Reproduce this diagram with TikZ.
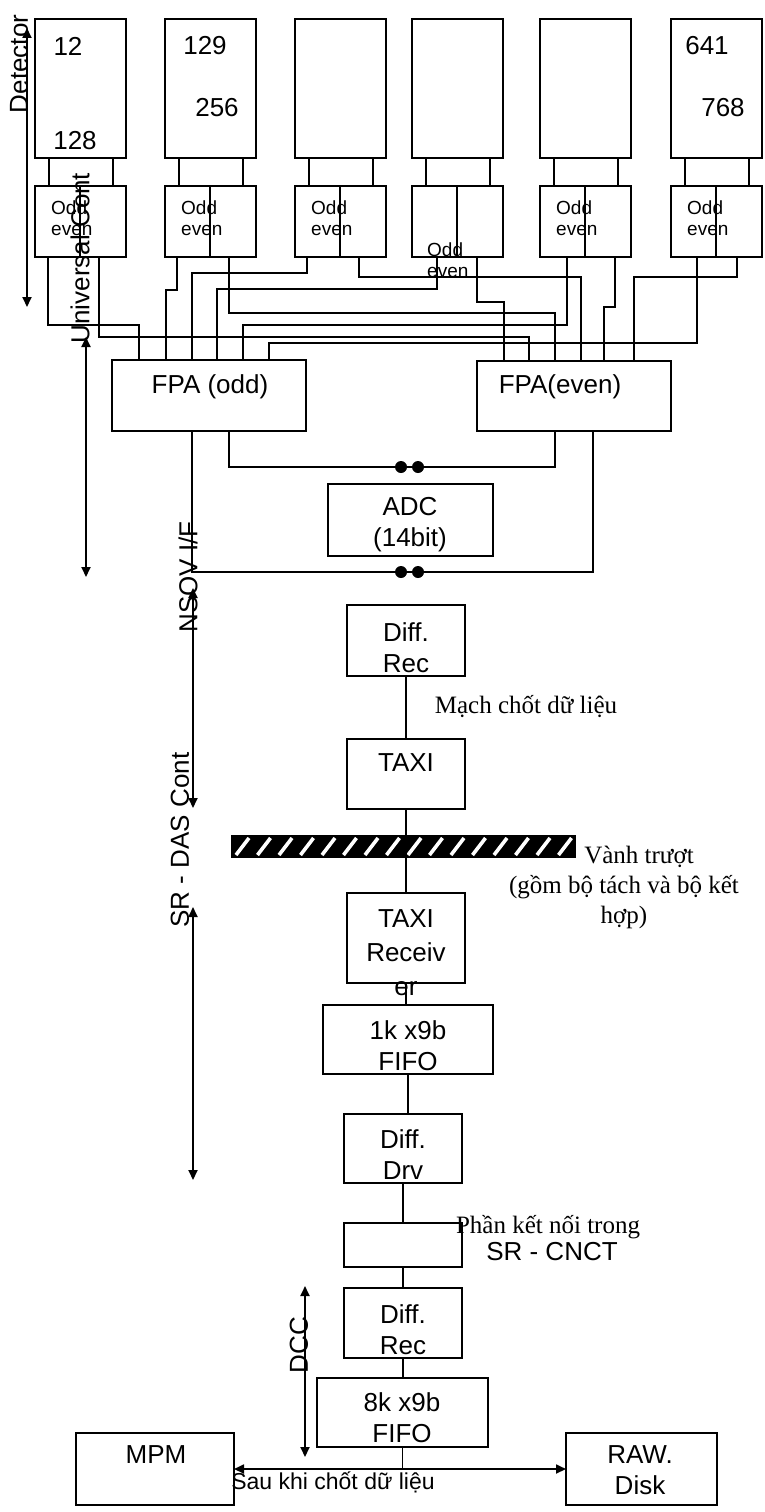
\documentclass[tikz,border=0pt]{standalone}
\usepackage{fontspec}
\setmainfont{Liberation Serif}
\setsansfont{Liberation Sans}
\usetikzlibrary{arrows.meta}

\begin{document}
\begin{tikzpicture}[x=1pt, y=-1pt,
  box/.style={draw, line width=2.8pt, inner sep=0pt, outer sep=0pt, anchor=north west},
  wire/.style={line width=1.8pt},
  both/.style={line width=1.8pt, {Triangle[length=10pt,width=9pt]}-{Triangle[length=10pt,width=9pt]}},
  txt/.style={font=\fontsize{26}{31}\selectfont\sffamily, align=center, inner sep=0pt},
  oe/.style={font=\fontsize{19}{21}\selectfont\sffamily, align=left, inner sep=0pt, anchor=west},
  vn/.style={font=\fontsize{25}{30}\selectfont\rmfamily, align=center, inner sep=0pt},
  side/.style={txt, rotate=90}]
  \fill[white] (0,0) rectangle (764,1512);
  \useasboundingbox (0,0) rectangle (764,1512);

  % --- Detector modules and odd/even split ---
  \foreach \i/\x in {1/35, 2/165, 3/295, 4/412, 5/540, 6/671} {
    \node[box, minimum width=91pt, minimum height=139pt] (d\i) at (\x,19) {};
    \node[box, minimum width=91pt, minimum height=71pt] (ob\i) at (\x,186) {};
    \draw[line width=2.8pt] ([xshift=45pt]ob\i.north west) -- ([xshift=45pt]ob\i.south west);
    \draw[wire] ([xshift=14pt]d\i.south west) -- ([xshift=14pt]ob\i.north west);
    \draw[wire] ([xshift=78pt]d\i.south west) -- ([xshift=78pt]ob\i.north west);
  }
  \node[txt] (n12) at (68,46) {12};
  \node[txt] (n128) at (75,141) {128};
  \node[txt] (n129) at (205,46) {129};
  \node[txt] (n256) at (217,108) {256};
  \node[txt] (n641) at (707,46) {641};
  \node[txt] (n768) at (723,108) {768};
  \foreach \i/\x in {1/51, 2/181, 3/311, 5/556, 6/687}
    \node[oe] (oe\i) at (\x,218) {Odd\\even};
  \node[oe] (oe4) at (427,260) {Odd\\even};

  % --- FPA boards ---
  \node[box, minimum width=194pt, minimum height=71pt] (fpaO) at (112,360) {};
  \node[txt] (tfpaO) at (210,387) {FPA (odd)};
  \node[box, minimum width=194pt, minimum height=70pt] (fpaE) at (477,361) {};
  \node[txt] (tfpaE) at (560,387) {FPA(even)};

  % --- Wiring to the FPA boards ---
  \foreach \i/\sx/\tx/\by in {1/13/139/325, 2/12/166/290, 3/12/192/273,
                              4/25/217/289, 5/27/243/325, 6/26/269/343}
    \draw[wire] ([xshift=\sx pt]ob\i.south west) |- (\tx,\by) -- (\tx,\by |- fpaO.north);
  \foreach \i/\sx/\tx/\by in {1/64/529/337, 2/64/555/313, 3/64/581/277,
                              4/65/504/302, 5/75/604/307, 6/66/634/277}
    \draw[wire] ([xshift=\sx pt]ob\i.south west) |- (\tx,\by) -- (\tx,\by |- fpaE.north);

  % --- ADC and buses ---
  \node[box, minimum width=165pt, minimum height=72pt] (adc) at (328,484) {};
  \node[txt] (tadc) at (410,525) {ADC\\(14bit)};
  \draw[wire] ([xshift=117pt]fpaO.south west) -- ++(0,36) -| ([xshift=78pt]fpaE.south west);
  \draw[wire] ([xshift=80pt]fpaO.south west) -- ++(0,141) -| ([xshift=116pt]fpaE.south west);
  \foreach \yy in {467,572} {
    \fill (401,\yy) circle (6pt);
    \fill (418,\yy) circle (6pt);
  }

  % --- Side arrows ---
  \coordinate (detT) at (27,28);   \coordinate (detB) at (27,307);
  \coordinate (uniT) at (86,337);  \coordinate (uniB) at (86,577);
  \coordinate (nsoT) at (193,588); \coordinate (nsoB) at (193,808);
  \coordinate (dasT) at (193,907); \coordinate (dasB) at (193,1180);
  \coordinate (dccT) at (305,1286); \coordinate (dccB) at (305,1457);
  \draw[both] (detT) -- (detB);
  \draw[both] (uniT) -- (uniB);
  \draw[both] (nsoT) -- (nsoB);
  \draw[both] (dasT) -- (dasB);
  \draw[both] (dccT) -- (dccB);
  \node[side] (ldet) at (19,64) {Detector};
  \node[side] (luni) at (80,258) {Universal Cont};
  \node[side] (lnso) at (188,577) {NSOV I/F};
  \node[side] (ldas) at (180,840) {SR - DAS Cont};
  \node[side] (ldcc) at (299,1345) {DCC};

  % --- Data chain ---
  \node[box, minimum width=118pt, minimum height=71pt] (rec1) at (347,605) {};
  \node[txt] (trec1) at (406,648) {Diff.\\Rec};
  \node[box, minimum width=118pt, minimum height=70pt] (taxi) at (347,739) {};
  \node[txt] (ttaxi) at (406,763) {TAXI};
  \node[box, minimum width=118pt, minimum height=90pt] (taxiR) at (347,893) {};
  \node[txt, font=\fontsize{26}{34}\selectfont\sffamily] (ttaxiR) at (406,953) {TAXI\\Receiv\\er};
  \node[box, minimum width=170pt, minimum height=69pt] (fifo1) at (323,1005) {};
  \node[txt] (tfifo1) at (408,1046) {1k x9b\\FIFO};
  \node[box, minimum width=118pt, minimum height=69pt] (drv) at (344,1114) {};
  \node[txt] (tdrv) at (403,1155) {Diff.\\Drv};
  \node[box, minimum width=118pt, minimum height=44pt] (cnct) at (344,1223) {};
  \node[box, minimum width=118pt, minimum height=70pt] (rec2) at (344,1288) {};
  \node[txt] (trec2) at (403,1330) {Diff.\\Rec};
  \node[box, minimum width=171pt, minimum height=69pt] (fifo8) at (317,1378) {};
  \node[txt] (tfifo8) at (402,1418) {8k x9b\\FIFO};
  \node[box, minimum width=158pt, minimum height=72pt] (mpm) at (76,1433) {};
  \node[txt] (tmpm) at (156,1455) {MPM};
  \node[box, minimum width=151pt, minimum height=72pt] (raw) at (566,1433) {};
  \node[txt] (traw) at (640,1470) {RAW.\\Disk};

  % --- Slip ring ---
  \fill (231,835) rectangle (576,858);
  \begin{scope}
    \clip (231,835) rectangle (576,858);
    \foreach \k in {0,...,16}
      \draw[white, line width=3.6pt] ({236+\k*21.5},855) -- ({249+\k*21.5},838);
  \end{scope}

  \draw[wire] (rec1.south) -- (rec1.south |- taxi.north);
  \draw[wire] (taxi.south) -- (taxi.south |- taxiR.north);
  \draw[wire] (taxiR.south) -- (taxiR.south |- fifo1.north);
  \draw[wire] (fifo1.south) -- (fifo1.south |- drv.north);
  \draw[wire] (drv.south) -- (drv.south |- cnct.north);
  \draw[wire] (cnct.south) -- (cnct.south |- rec2.north);
  \draw[wire] (rec2.south) -- (rec2.south |- fifo8.north);
  \draw[wire] (fifo8.south) -- (fifo8.south |- mpm.east);
  \draw[both] (mpm.east) -- (raw.west);

  % --- Notes ---
  \node[vn] (nlatch) at (526,707) {Mạch chốt dữ liệu};
  \node[vn] (nring) at (624,887) {\hspace*{30pt}Vành trượt\\(gồm bộ tách và bộ kết\\hợp)};
  \node[vn] (nconn) at (548,1227) {Phần kết nối trong};
  \node[txt] (nsrc) at (552,1252) {SR - CNCT};
  \node[txt, font=\fontsize{23}{28}\selectfont\sffamily] (nafter) at (333,1482) {Sau khi chốt dữ liệu};
\end{tikzpicture}
\end{document}
